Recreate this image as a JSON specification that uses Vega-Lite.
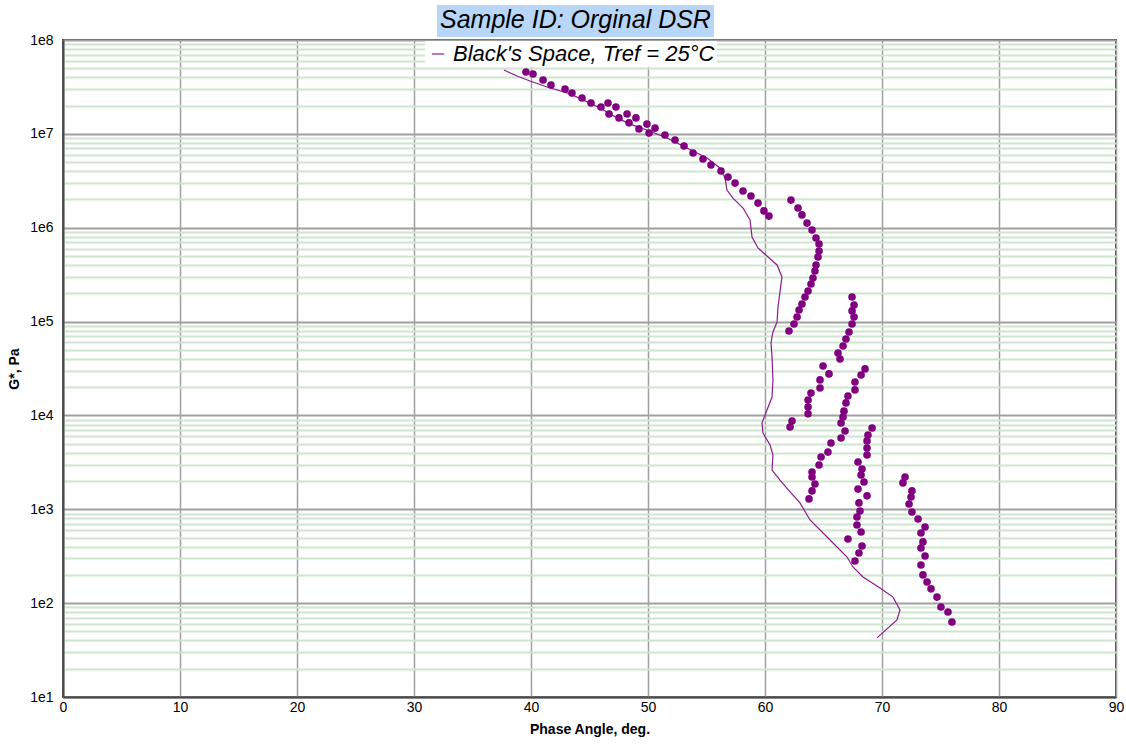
{
  "$schema": "https://vega.github.io/schema/vega-lite/v6.json",
  "width": 1053,
  "height": 657,
  "autosize": {"type": "none"},
  "padding": {"left": 63, "top": 40, "right": 10, "bottom": 48},
  "background": "white",
  "config": {"view": {"stroke": "#4a4a4a", "strokeWidth": 2}, "font": "Liberation Sans"},
  "datasets": {
    "curve": [
      {"i": 1, "phase": 37.69, "G": 4.79e7, "series": "Black's Space, Tref = 25°C"},
      {"i": 2, "phase": 38.80, "G": 4.13e7, "series": "Black's Space, Tref = 25°C"},
      {"i": 3, "phase": 39.91, "G": 3.66e7, "series": "Black's Space, Tref = 25°C"},
      {"i": 4, "phase": 41.37, "G": 3.16e7, "series": "Black's Space, Tref = 25°C"},
      {"i": 5, "phase": 43.16, "G": 2.72e7, "series": "Black's Space, Tref = 25°C"},
      {"i": 6, "phase": 44.44, "G": 2.30e7, "series": "Black's Space, Tref = 25°C"},
      {"i": 7, "phase": 45.90, "G": 1.89e7, "series": "Black's Space, Tref = 25°C"},
      {"i": 8, "phase": 47.35, "G": 1.48e7, "series": "Black's Space, Tref = 25°C"},
      {"i": 9, "phase": 48.46, "G": 1.27e7, "series": "Black's Space, Tref = 25°C"},
      {"i": 10, "phase": 49.91, "G": 1.10e7, "series": "Black's Space, Tref = 25°C"},
      {"i": 11, "phase": 51.62, "G": 9.04e6, "series": "Black's Space, Tref = 25°C"},
      {"i": 12, "phase": 53.33, "G": 7.06e6, "series": "Black's Space, Tref = 25°C"},
      {"i": 13, "phase": 55.04, "G": 5.53e6, "series": "Black's Space, Tref = 25°C"},
      {"i": 14, "phase": 56.15, "G": 4.33e6, "series": "Black's Space, Tref = 25°C"},
      {"i": 15, "phase": 56.58, "G": 3.39e6, "series": "Black's Space, Tref = 25°C"},
      {"i": 16, "phase": 56.75, "G": 2.52e6, "series": "Black's Space, Tref = 25°C"},
      {"i": 17, "phase": 57.26, "G": 2.07e6, "series": "Black's Space, Tref = 25°C"},
      {"i": 18, "phase": 58.12, "G": 1.62e6, "series": "Black's Space, Tref = 25°C"},
      {"i": 19, "phase": 58.72, "G": 1.21e6, "series": "Black's Space, Tref = 25°C"},
      {"i": 20, "phase": 58.89, "G": 7.96e5, "series": "Black's Space, Tref = 25°C"},
      {"i": 21, "phase": 59.40, "G": 6.08e5, "series": "Black's Space, Tref = 25°C"},
      {"i": 22, "phase": 60.26, "G": 4.88e5, "series": "Black's Space, Tref = 25°C"},
      {"i": 23, "phase": 61.03, "G": 4.01e5, "series": "Black's Space, Tref = 25°C"},
      {"i": 24, "phase": 61.45, "G": 2.99e5, "series": "Black's Space, Tref = 25°C"},
      {"i": 25, "phase": 61.28, "G": 2.07e5, "series": "Black's Space, Tref = 25°C"},
      {"i": 26, "phase": 61.11, "G": 1.43e5, "series": "Black's Space, Tref = 25°C"},
      {"i": 27, "phase": 61.03, "G": 9.91e4, "series": "Black's Space, Tref = 25°C"},
      {"i": 28, "phase": 60.68, "G": 7.74e4, "series": "Black's Space, Tref = 25°C"},
      {"i": 29, "phase": 60.51, "G": 5.92e4, "series": "Black's Space, Tref = 25°C"},
      {"i": 30, "phase": 60.60, "G": 4.20e4, "series": "Black's Space, Tref = 25°C"},
      {"i": 31, "phase": 60.68, "G": 2.39e4, "series": "Black's Space, Tref = 25°C"},
      {"i": 32, "phase": 60.60, "G": 1.57e4, "series": "Black's Space, Tref = 25°C"},
      {"i": 33, "phase": 60.17, "G": 1.14e4, "series": "Black's Space, Tref = 25°C"},
      {"i": 34, "phase": 59.74, "G": 8.30e3, "series": "Black's Space, Tref = 25°C"},
      {"i": 35, "phase": 59.83, "G": 6.50e3, "series": "Black's Space, Tref = 25°C"},
      {"i": 36, "phase": 60.43, "G": 4.84e3, "series": "Black's Space, Tref = 25°C"},
      {"i": 37, "phase": 60.68, "G": 3.79e3, "series": "Black's Space, Tref = 25°C"},
      {"i": 38, "phase": 60.60, "G": 2.62e3, "series": "Black's Space, Tref = 25°C"},
      {"i": 39, "phase": 61.28, "G": 2.05e3, "series": "Black's Space, Tref = 25°C"},
      {"i": 40, "phase": 62.14, "G": 1.53e3, "series": "Black's Space, Tref = 25°C"},
      {"i": 41, "phase": 62.99, "G": 1.17e3, "series": "Black's Space, Tref = 25°C"},
      {"i": 42, "phase": 63.85, "G": 769, "series": "Black's Space, Tref = 25°C"},
      {"i": 43, "phase": 65.56, "G": 471, "series": "Black's Space, Tref = 25°C"},
      {"i": 44, "phase": 67.01, "G": 310, "series": "Black's Space, Tref = 25°C"},
      {"i": 45, "phase": 67.52, "G": 243, "series": "Black's Space, Tref = 25°C"},
      {"i": 46, "phase": 68.38, "G": 190, "series": "Black's Space, Tref = 25°C"},
      {"i": 47, "phase": 69.83, "G": 145, "series": "Black's Space, Tref = 25°C"},
      {"i": 48, "phase": 70.94, "G": 116, "series": "Black's Space, Tref = 25°C"},
      {"i": 49, "phase": 71.54, "G": 84.6, "series": "Black's Space, Tref = 25°C"},
      {"i": 50, "phase": 71.28, "G": 66.1, "series": "Black's Space, Tref = 25°C"},
      {"i": 51, "phase": 69.57, "G": 42.6, "series": "Black's Space, Tref = 25°C"}
    ],
    "points": [
      {"phase": 39.57, "G": 4.56e7}, {"phase": 40.17, "G": 4.34e7}, {"phase": 41.03, "G": 3.75e7},
      {"phase": 41.71, "G": 3.32e7}, {"phase": 42.91, "G": 3.01e7}, {"phase": 43.50, "G": 2.72e7},
      {"phase": 44.36, "G": 2.41e7}, {"phase": 45.13, "G": 2.13e7}, {"phase": 45.98, "G": 1.93e7},
      {"phase": 46.58, "G": 2.13e7}, {"phase": 47.26, "G": 1.93e7}, {"phase": 46.67, "G": 1.63e7},
      {"phase": 47.52, "G": 1.48e7}, {"phase": 48.21, "G": 1.63e7}, {"phase": 48.97, "G": 1.48e7},
      {"phase": 48.38, "G": 1.31e7}, {"phase": 49.23, "G": 1.13e7}, {"phase": 49.91, "G": 1.27e7},
      {"phase": 50.60, "G": 1.15e7}, {"phase": 50.09, "G": 1.02e7}, {"phase": 51.45, "G": 9.73e6},
      {"phase": 52.31, "G": 8.61e6}, {"phase": 53.08, "G": 7.43e6}, {"phase": 53.85, "G": 6.25e6},
      {"phase": 54.70, "G": 5.40e6}, {"phase": 55.38, "G": 4.66e6}, {"phase": 56.24, "G": 4.02e6},
      {"phase": 56.84, "G": 3.47e6}, {"phase": 57.44, "G": 2.99e6}, {"phase": 58.12, "G": 2.46e6},
      {"phase": 58.80, "G": 2.18e6}, {"phase": 59.40, "G": 1.83e6}, {"phase": 59.91, "G": 1.51e6},
      {"phase": 60.34, "G": 1.33e6},
      {"phase": 62.22, "G": 1.97e6}, {"phase": 62.82, "G": 1.62e6}, {"phase": 63.16, "G": 1.37e6},
      {"phase": 63.59, "G": 1.12e6}, {"phase": 64.02, "G": 9.46e5}, {"phase": 64.36, "G": 7.76e5},
      {"phase": 64.62, "G": 6.71e5}, {"phase": 64.62, "G": 5.65e5}, {"phase": 64.53, "G": 4.88e5},
      {"phase": 64.36, "G": 4.01e5}, {"phase": 64.27, "G": 3.46e5}, {"phase": 64.10, "G": 2.91e5},
      {"phase": 63.93, "G": 2.51e5}, {"phase": 63.68, "G": 2.12e5}, {"phase": 63.42, "G": 1.83e5},
      {"phase": 63.16, "G": 1.54e5}, {"phase": 62.91, "G": 1.33e5}, {"phase": 62.74, "G": 1.12e5},
      {"phase": 62.48, "G": 9.42e4}, {"phase": 62.05, "G": 7.94e4},
      {"phase": 67.44, "G": 1.83e5}, {"phase": 67.61, "G": 1.50e5}, {"phase": 67.44, "G": 1.30e5},
      {"phase": 67.61, "G": 1.12e5}, {"phase": 67.44, "G": 9.42e4}, {"phase": 67.18, "G": 7.74e4},
      {"phase": 66.92, "G": 6.52e4}, {"phase": 66.67, "G": 5.50e4}, {"phase": 66.24, "G": 4.62e4},
      {"phase": 66.41, "G": 3.99e4},
      {"phase": 64.96, "G": 3.36e4}, {"phase": 65.47, "G": 2.77e4}, {"phase": 64.70, "G": 2.39e4},
      {"phase": 64.70, "G": 1.96e4}, {"phase": 63.93, "G": 1.73e4}, {"phase": 63.68, "G": 1.46e4},
      {"phase": 63.68, "G": 1.23e4}, {"phase": 63.68, "G": 1.04e4}, {"phase": 62.31, "G": 8.73e3},
      {"phase": 62.14, "G": 7.54e3},
      {"phase": 68.55, "G": 3.13e4}, {"phase": 68.21, "G": 2.70e4}, {"phase": 67.69, "G": 2.27e4},
      {"phase": 67.69, "G": 1.87e4}, {"phase": 67.09, "G": 1.61e4}, {"phase": 66.92, "G": 1.36e4},
      {"phase": 66.75, "G": 1.11e4}, {"phase": 66.67, "G": 9.62e3}, {"phase": 66.50, "G": 8.30e3},
      {"phase": 66.84, "G": 6.82e3}, {"phase": 66.50, "G": 5.75e3}, {"phase": 65.64, "G": 5.08e3},
      {"phase": 65.38, "G": 4.07e3}, {"phase": 64.79, "G": 3.61e3}, {"phase": 64.62, "G": 2.96e3},
      {"phase": 64.02, "G": 2.49e3}, {"phase": 64.02, "G": 2.21e3}, {"phase": 64.27, "G": 1.86e3},
      {"phase": 64.02, "G": 1.57e3}, {"phase": 63.76, "G": 1.29e3},
      {"phase": 69.15, "G": 7.35e3}, {"phase": 68.80, "G": 6.19e3}, {"phase": 68.72, "G": 5.35e3},
      {"phase": 68.72, "G": 4.50e3}, {"phase": 68.72, "G": 3.79e3}, {"phase": 67.95, "G": 3.19e3},
      {"phase": 68.29, "G": 2.69e3}, {"phase": 68.21, "G": 2.32e3}, {"phase": 68.46, "G": 1.95e3},
      {"phase": 67.95, "G": 1.64e3}, {"phase": 68.72, "G": 1.39e3}, {"phase": 68.03, "G": 1.17e3},
      {"phase": 68.12, "G": 959}, {"phase": 67.86, "G": 828}, {"phase": 67.86, "G": 681},
      {"phase": 68.21, "G": 573}, {"phase": 67.09, "G": 483}, {"phase": 68.29, "G": 406},
      {"phase": 68.03, "G": 342}, {"phase": 67.69, "G": 281},
      {"phase": 71.97, "G": 2.21e3}, {"phase": 71.79, "G": 1.91e3}, {"phase": 72.56, "G": 1.57e3},
      {"phase": 72.48, "G": 1.35e3}, {"phase": 72.31, "G": 1.14e3}, {"phase": 72.56, "G": 935},
      {"phase": 73.08, "G": 789}, {"phase": 73.68, "G": 647}, {"phase": 73.33, "G": 558},
      {"phase": 73.50, "G": 449}, {"phase": 73.33, "G": 387}, {"phase": 73.68, "G": 318},
      {"phase": 73.33, "G": 255}, {"phase": 73.50, "G": 200}, {"phase": 73.85, "G": 168},
      {"phase": 74.19, "G": 142}, {"phase": 74.70, "G": 116}, {"phase": 75.04, "G": 91.0},
      {"phase": 75.64, "G": 80.5}, {"phase": 75.98, "G": 63.0}
    ]
  },
  "layer": [
    {
      "data": {"name": "curve"},
      "mark": {"type": "line", "strokeWidth": 1.2, "clip": true},
      "encoding": {
        "x": {
          "field": "phase", "type": "quantitative",
          "scale": {"domain": [0, 90], "nice": false, "zero": false},
          "axis": {
            "values": [0, 10, 20, 30, 40, 50, 60, 70, 80, 90],
            "grid": true, "gridColor": "#a0a0a0", "gridWidth": 1.5,
            "ticks": false, "domainColor": "#4a4a4a", "domainWidth": 2,
            "labelFontSize": 14, "labelColor": "black", "labelPadding": 3, "labelFlush": false,
            "title": "Phase Angle, deg.", "titleFontSize": 14, "titleFontWeight": "bold",
            "titleColor": "black", "titlePadding": 8
          }
        },
        "y": {
          "field": "G", "type": "quantitative",
          "scale": {"type": "log", "domain": [10, 100000000], "nice": false},
          "axis": {
            "values": [10, 20, 30, 40, 50, 60, 70, 80, 90, 100, 200, 300, 400, 500, 600, 700, 800, 900,
                       1000, 2000, 3000, 4000, 5000, 6000, 7000, 8000, 9000,
                       10000, 20000, 30000, 40000, 50000, 60000, 70000, 80000, 90000,
                       100000, 200000, 300000, 400000, 500000, 600000, 700000, 800000, 900000,
                       1000000, 2000000, 3000000, 4000000, 5000000, 6000000, 7000000, 8000000, 9000000,
                       10000000, 20000000, 30000000, 40000000, 50000000, 60000000, 70000000, 80000000, 90000000,
                       100000000],
            "labelExpr": "abs(log(datum.value)/LN10 - round(log(datum.value)/LN10)) < 0.001 ? '1e' + round(log(datum.value)/LN10) : ''",
            "labelOverlap": false,
            "grid": true,
            "gridColor": {"condition": {"test": "abs(log(datum.value)/LN10 - round(log(datum.value)/LN10)) < 0.001", "value": "#a0a0a0"}, "value": "#cfe5cf"},
            "gridWidth": 2,
            "ticks": false, "domainColor": "#4a4a4a", "domainWidth": 2,
            "labelFontSize": 14, "labelColor": "black", "labelPadding": 10,
            "title": "G*, Pa", "titleFontSize": 14, "titleFontWeight": "bold",
            "titleColor": "black", "titlePadding": 8
          }
        },
        "order": {"field": "i", "type": "quantitative"},
        "color": {
          "field": "series", "type": "nominal",
          "scale": {"range": ["#8b1c8b"]},
          "legend": {
            "title": null, "orient": "none", "legendX": 362, "legendY": 1,
            "fillColor": "white", "padding": 2,
            "labelFontSize": 22, "labelFontStyle": "italic", "labelColor": "black",
            "labelLimit": 400, "labelOffset": 4,
            "symbolType": "stroke", "symbolSize": 150, "symbolStrokeWidth": 1.2
          }
        }
      }
    },
    {
      "data": {"name": "points"},
      "mark": {"type": "circle", "size": 58, "opacity": 1},
      "encoding": {
        "x": {"field": "phase", "type": "quantitative"},
        "y": {"field": "G", "type": "quantitative"},
        "fill": {
          "datum": "Sample ID: Orginal DSR", "type": "nominal",
          "scale": {"range": ["#800080"]},
          "legend": {
            "title": "Sample ID: Orginal DSR", "orient": "none", "legendX": 374, "legendY": -35,
            "fillColor": "#b8d6f8", "padding": 3,
            "titleFontSize": 25, "titleFontStyle": "italic", "titleFontWeight": "normal",
            "titleColor": "black", "titleLimit": 500, "titlePadding": 0,
            "labelExpr": "''", "labelFontSize": 1, "labelOffset": 0,
            "symbolSize": 1, "symbolOpacity": 0, "symbolStrokeWidth": 0, "rowPadding": 0
          }
        }
      }
    }
  ]
}
